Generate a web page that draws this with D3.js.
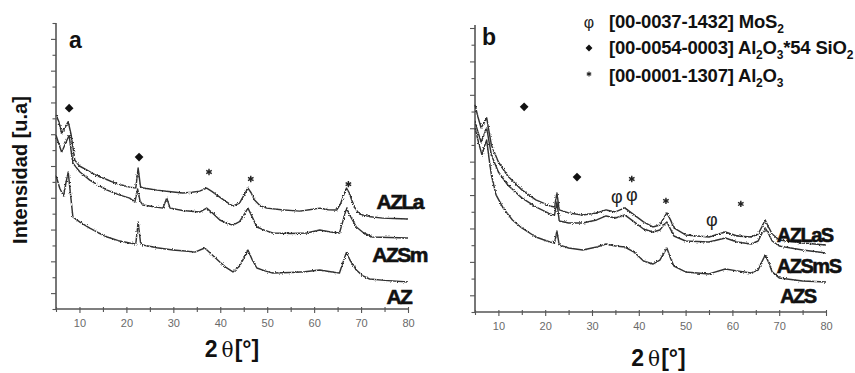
<!DOCTYPE html>
<html><head><meta charset="utf-8">
<script src="https://cdn.jsdelivr.net/npm/d3@7"></script>
<style>
html,body{margin:0;padding:0;background:#fff;}
svg{display:block;}
text{font-family:Arial,"Liberation Sans",sans-serif;}
</style></head>
<body>
<svg id="c" width="855" height="373"></svg>
<script>
// ---------- DATA ----------
const xTicks = [5,10,15,20,25,30,35,40,45,50,55,60,65,70,75,80];
const xTickLabels = ["","10","","20","","30","","40","","50","","60","","70","","80"];

// panel a  [2θ (°), intensity (a.u.)]
const azLa = [[5.0,12.2],[5.6,11.8],[6.2,11.07],[6.9,11.4],[7.6,11.79],[8.2,11.0],[9.0,9.37],[10.0,9.0],[11.6,8.74],[13.0,8.5],[14.4,8.30],[15.8,8.15],[17.1,7.99],[19.0,7.8],[20.7,7.67],[22.0,7.61],[22.5,8.87],[23.0,7.7],[23.6,7.61],[25.0,7.55],[26.5,7.48],[29.0,7.4],[32.0,7.30],[34.0,7.35],[35.6,7.42],[37.1,7.61],[38.2,7.4],[39.3,7.17],[41.0,6.8],[42.7,6.48],[44.1,6.67],[45.2,7.25],[45.9,7.61],[46.6,7.3],[47.3,6.86],[48.5,6.5],[49.9,6.35],[53.0,6.25],[56.9,6.16],[59.0,6.25],[61.2,6.35],[63.0,6.25],[64.8,6.23],[65.6,6.6],[66.2,7.1],[66.9,7.61],[67.5,7.3],[68.0,6.86],[68.8,6.3],[69.7,5.97],[72.0,5.8],[74.6,5.72],[77.0,5.7],[80.0,5.66]];
const azSm = [[5.0,10.94],[5.6,10.4],[6.2,9.87],[7.0,10.4],[7.8,10.94],[8.2,10.0],[8.6,9.18],[10.1,8.62],[12.2,8.11],[14.0,7.8],[15.9,7.48],[18.3,7.2],[20.7,6.98],[21.8,6.73],[22.4,7.55],[22.9,6.8],[23.5,6.54],[25.5,6.45],[27.8,6.35],[28.6,6.98],[29.3,6.35],[32.0,6.2],[35.6,6.10],[37.1,6.35],[38.5,6.0],[39.9,5.60],[41.3,5.4],[42.7,5.28],[44.1,5.5],[45.2,6.0],[45.9,6.35],[46.8,5.8],[47.8,5.16],[49.5,4.95],[51.2,4.78],[55.0,4.75],[58.4,4.78],[61.2,4.97],[63.5,4.85],[65.4,4.78],[66.1,5.5],[66.9,6.35],[67.6,5.9],[69.0,5.16],[70.5,4.8],[72.4,4.53],[76.0,4.5],[80.0,4.47]];
const az = [[5.0,8.4],[5.8,7.6],[6.6,7.11],[7.1,7.9],[7.6,8.62],[8.1,7.2],[8.6,5.79],[10.1,5.47],[12.2,5.09],[14.0,4.8],[15.9,4.53],[18.3,4.3],[20.7,4.15],[22.0,4.09],[22.5,5.47],[23.0,4.2],[23.5,4.03],[26.5,3.85],[29.9,3.71],[32.5,3.65],[34.6,3.58],[36.7,3.84],[38.3,3.4],[39.9,2.96],[41.3,2.6],[42.7,2.33],[44.1,2.7],[45.2,3.3],[45.9,3.71],[46.8,3.1],[47.8,2.58],[49.5,2.4],[51.2,2.26],[55.0,2.3],[58.0,2.35],[61.2,2.45],[63.5,2.35],[65.4,2.26],[66.1,2.9],[66.9,3.58],[67.6,3.1],[69.0,2.45],[70.3,2.1],[71.8,1.89],[75.0,1.8],[80.0,1.70]];

// panel b
const azLaS = [[5.0,12.40],[5.6,11.7],[6.3,11.02],[6.9,11.3],[7.5,11.62],[8.0,10.8],[8.5,10.0],[10,8.98],[12,8.14],[15,7.31],[18,6.71],[21,6.35],[22.0,6.29],[22.5,7.13],[23.0,6.11],[25,5.93],[28,5.81],[31,5.93],[33,6.11],[35,5.99],[37,6.23],[39,5.81],[41,5.39],[43,5.09],[44.5,5.21],[45.3,5.6],[46,5.93],[46.8,5.5],[47.5,5.03],[50,4.61],[55,4.49],[58.5,4.79],[61,4.55],[64,4.49],[65.5,4.67],[66.3,5.1],[67,5.51],[67.7,5.1],[68.5,4.67],[70,4.31],[75,4.13],[80,4.01]];
const azSmS = [[5.0,11.38],[5.6,10.8],[6.3,10.18],[6.9,10.6],[7.5,11.02],[8.0,10.2],[8.5,9.40],[10,8.38],[12,7.60],[15,6.83],[18,6.29],[21,5.87],[22.0,5.81],[22.5,6.59],[23.0,5.45],[25,5.33],[28,5.33],[31,5.51],[33,5.75],[35,5.63],[37,5.81],[39,5.39],[41,4.97],[43,4.79],[44.5,4.91],[45.3,5.2],[46,5.39],[46.8,4.95],[47.5,4.55],[50,4.25],[55,4.19],[58.5,4.43],[61,4.19],[64,4.07],[65.5,4.25],[66.3,4.7],[67,5.03],[67.7,4.7],[68.5,4.25],[70,3.95],[75,3.71],[80,3.53]];
const azS = [[5.0,11.02],[5.8,10.1],[6.5,9.40],[7.0,9.9],[7.5,10.30],[8.0,9.2],[8.5,8.20],[9.5,7.01],[11,6.23],[13,5.51],[15,5.03],[18,4.49],[21,4.19],[22.0,4.13],[22.5,4.85],[23.0,4.01],[25,3.83],[28,3.71],[31,3.89],[33,4.07],[35,3.95],[37,3.89],[39,3.59],[41,3.05],[43,2.87],[44.5,3.11],[45.3,3.5],[46,3.83],[46.8,3.2],[47.5,2.75],[50,2.40],[55,2.28],[58.5,2.57],[61,2.46],[64,2.34],[65.5,2.51],[66.3,3.0],[67,3.41],[67.7,3.0],[68.5,2.40],[70,2.04],[75,1.86],[80,1.80]];

// series names and label anchors (2θ, intensity)
const namesA = ["AZLa","AZSm","AZ"];
const labelAnchorsA = [[73.3,6.29],[72.4,2.96],[75.4,0.31]];
const namesB = ["AZLaS","AZSmS","AZS"];
const labelAnchorsB = [[69.5,4.17],[69.5,2.32],[70.2,0.54]];

// phase markers: [2θ, intensity, type]
const markersA = [[7.8,12.64,"d"],[22.7,9.56,"d"],[37.6,8.62,"s"],[46.5,8.18,"s"],[67.3,7.86,"s"]];
const markersB = [[15.5,12.28,"d"],[26.8,8.08,"d"],[38.5,7.96,"s"],[35.3,6.89,"p"],[38.5,7.01,"p"],[45.8,6.65,"s"],[55.6,5.51,"p"],[61.8,6.47,"s"]];

// legend
const legendSymbols = ["p","d","s"];
const legendCodes = ["[00-0037-1432] ","[00-0054-0003] ","[00-0001-1307] "];

// ---------- DRAW ----------
const svg = d3.select("#c");
const defs = svg.append("defs");
const f = defs.append("filter").attr("id","noise").attr("x","-5%").attr("y","-20%").attr("width","110%").attr("height","140%");
f.append("feTurbulence").attr("type","fractalNoise").attr("baseFrequency","0.9").attr("numOctaves",2).attr("seed",3).attr("result","t");
f.append("feDisplacementMap").attr("in","SourceGraphic").attr("in2","t").attr("scale",2.8).attr("xChannelSelector","R").attr("yChannelSelector","G");

function panel(cfg){
  const g = svg.append("g");
  const x = d3.scaleLinear().domain([5,80]).range(cfg.xr);
  const y = d3.scaleLinear().domain([0,cfg.ymax]).range(cfg.yr);

  // y axis
  const ya = g.append("g").attr("transform",`translate(${cfg.xr[0]},0)`)
    .call(d3.axisLeft(y).tickValues(d3.range(0,cfg.ymax+1)).tickSize(5).tickFormat(""));
  ya.select(".domain").remove();
  ya.selectAll(".tick line").attr("stroke","#555").attr("stroke-width",1.1)
    .attr("x2",d=> d%2===1 ? -5 : -3.5);
  g.append("line").attr("x1",cfg.xr[0]).attr("x2",cfg.xr[0]).attr("y1",cfg.yTop).attr("y2",cfg.yr[0])
    .attr("stroke","#555").attr("stroke-width",1.6);

  // x axis
  const xa = g.append("g").attr("transform",`translate(0,${cfg.yr[0]})`)
    .call(d3.axisBottom(x).tickValues(xTicks).tickSize(4).tickPadding(6).tickFormat((d,i)=>xTickLabels[i]));
  xa.select(".domain").remove();
  xa.selectAll(".tick line").attr("stroke","#555").attr("stroke-width",1.1).attr("y1",-2)
    .attr("y2",d=> d%10===0 ? 4 : 3);
  xa.selectAll(".tick text").attr("fill","#6a6a6a").attr("font-size",11).attr("font-family","Arial, sans-serif");
  g.append("line").attr("x1",cfg.xr[0]).attr("x2",cfg.xr[1]).attr("y1",cfg.yr[0]).attr("y2",cfg.yr[0])
    .attr("stroke","#555").attr("stroke-width",1.6);

  // curves
  const line = d3.line().x(d=>x(d[0])).y(d=>y(d[1]));
  cfg.series.forEach(s=>{
    g.append("path").datum(s).attr("d",line).attr("fill","none")
      .attr("stroke","#333").attr("stroke-width",1.45).attr("stroke-linejoin","round")
      .attr("filter","url(#noise)");
  });

  // series labels
  cfg.names.forEach((n,i)=>{
    g.append("text").attr("x",x(cfg.anchors[i][0])).attr("y",y(cfg.anchors[i][1]))
      .attr("font-size",cfg.labelSize).attr("font-weight","bold").attr("letter-spacing",-1.5)
      .attr("fill","#111").attr("stroke","#111").attr("stroke-width",0.6).text(n);
  });

  // markers
  cfg.markers.forEach(m=>drawMarker(g, x(m[0]), y(m[1]), m[2]));

  // panel letter
  g.append("text").attr("x",cfg.letterPos[0]).attr("y",cfg.letterPos[1])
    .attr("font-size",cfg.letterSize).attr("font-weight","bold").attr("fill","#111").text(cfg.letter);

  // x title
  const t = g.append("text").attr("x",(cfg.xr[0]+cfg.xr[1])/2 + cfg.titleDx).attr("y",cfg.titleY)
    .attr("text-anchor","middle").attr("font-size",23).attr("fill","#111");
  t.append("tspan").attr("font-weight","bold").attr("font-family","Arial, sans-serif").text("2");
  t.append("tspan").attr("font-family","'DejaVu Serif','Liberation Serif',serif").attr("font-size",20).attr("dx",4).text("θ");
  t.append("tspan").attr("font-weight","bold").attr("font-family","Arial, sans-serif").attr("dx",1).text("[°]");
}

function drawMarker(g, px, py, type){
  if(type==="d"){
    g.append("path").attr("d",d3.symbol(d3.symbolSquare,38)()).attr("transform",`translate(${px},${py}) rotate(45)`).attr("fill","#111");
  } else if(type==="s"){
    g.append("path").attr("d",d3.symbol(d3.symbolAsterisk,28)()).attr("transform",`translate(${px},${py})`)
      .attr("fill","none").attr("stroke","#222").attr("stroke-width",1.4);
  } else {
    g.append("text").attr("x",px).attr("y",py).attr("text-anchor","middle").attr("dominant-baseline","central")
      .attr("font-family","'DejaVu Serif','Liberation Serif',serif").attr("font-size",18).attr("fill","#222").text("φ");
  }
}

panel({xr:[56,408], yr:[309,23], yTop:23, ymax:18, series:[azLa,azSm,az], names:namesA, anchors:labelAnchorsA,
  labelSize:21, markers:markersA, letter:"a", letterPos:[69,48], letterSize:23, titleY:357, titleDx:0});
panel({xr:[475,826], yr:[312,28], yTop:25, ymax:17, series:[azLaS,azSmS,azS], names:namesB, anchors:labelAnchorsB,
  labelSize:20, markers:markersB, letter:"b", letterPos:[482,45], letterSize:23, titleY:366, titleDx:8});

// y title
svg.append("text").attr("transform","translate(27,170) rotate(-90)").attr("text-anchor","middle")
  .attr("font-size",20).attr("font-weight","bold").attr("fill","#111").text("Intensidad [u.a]");

// legend
const lg = svg.append("g");
const rowsY = [28,54,82];
legendSymbols.forEach((s,i)=>{
  const cy = rowsY[i]-6;
  if(s==="p"){
    lg.append("text").attr("x",589).attr("y",cy).attr("text-anchor","middle").attr("dominant-baseline","central")
      .attr("font-family","'DejaVu Serif','Liberation Serif',serif").attr("font-size",16).attr("fill","#222").text("φ");
  } else if(s==="d"){
    lg.append("path").attr("d",d3.symbol(d3.symbolSquare,24)()).attr("transform",`translate(589,${cy}) rotate(45)`).attr("fill","#111");
  } else {
    lg.append("path").attr("d",d3.symbol(d3.symbolAsterisk,18)()).attr("transform",`translate(589,${cy-2})`)
      .attr("fill","none").attr("stroke","#222").attr("stroke-width",1.1);
  }
  const t = lg.append("text").attr("x",609).attr("y",rowsY[i]).attr("font-size",18.5).attr("font-weight","bold").attr("fill","#111")
    .attr("letter-spacing",-0.2);
  t.append("tspan").text(legendCodes[i]);
  const sub = (txt)=> t.append("tspan").attr("font-size",12).attr("dy",5).text(txt);
  const up = (txt)=> t.append("tspan").attr("dy",-5).text(txt);
  if(i===0){ t.append("tspan").text("MoS"); sub("2"); }
  if(i===1){ t.append("tspan").text("Al"); sub("2"); up("O"); sub("3"); up("*54 SiO"); sub("2"); }
  if(i===2){ t.append("tspan").text("Al"); sub("2"); up("O"); sub("3"); }
});
</script>
</body></html>
